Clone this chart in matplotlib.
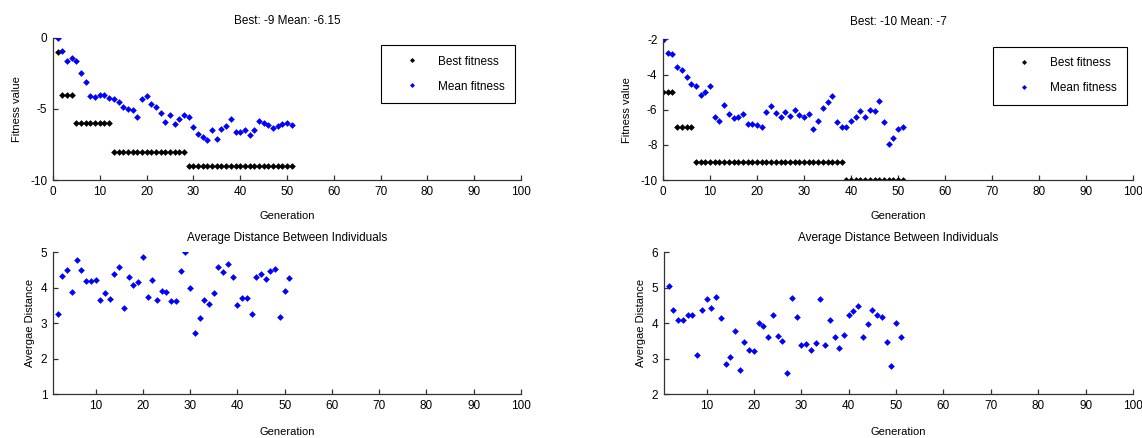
import numpy as np
import matplotlib.pyplot as plt

plt.rcParams['font.family'] = ['Liberation Sans', 'DejaVu Sans']
plt.rcParams['font.size'] = 8
plt.rcParams['axes.unicode_minus'] = False

# run 1 (left column)
gen1 = np.arange(1, 52)
best1 = [-1] + [-4] * 3 + [-6] * 8 + [-8] * 16 + [-9] * 23
mean1 = [0.0, -0.91, -1.62, -1.41, -1.66, -2.51, -3.09, -4.10, -4.19, -4.03,
         -4.03, -4.26, -4.29, -4.50, -4.85, -5.01, -5.08, -5.60, -4.29, -4.12,
         -4.68, -4.85, -5.32, -5.93, -5.43, -6.09, -5.71, -5.46, -5.55, -6.25,
         -6.79, -7.00, -7.19, -6.49, -7.14, -6.42, -6.18, -5.74, -6.65, -6.65,
         -6.51, -6.81, -6.49, -5.83, -5.97, -6.16, -6.35, -6.23, -6.07, -5.97,
         -6.15]
dgen1 = np.arange(2, 52)
dist1 = [3.27, 4.34, 4.50, 3.88, 4.78, 4.50, 4.18, 4.18, 4.21, 3.65,
         3.85, 3.69, 4.38, 4.58, 3.44, 4.31, 4.08, 4.15, 4.88, 3.74,
         4.21, 3.65, 3.91, 3.88, 3.62, 3.62, 4.48, 5.01, 3.98, 2.72,
         3.15, 3.65, 3.55, 3.85, 4.58, 4.44, 4.68, 4.31, 3.52, 3.72,
         3.72, 3.27, 4.31, 4.38, 4.25, 4.48, 4.54, 3.18, 3.91, 4.28]

# run 2 (right column)
gen2 = np.arange(0, 52)
best2 = [-5] * 3 + [-7] * 4 + [-9] * 32 + [-10] * 13
mean2 = [-2.06, -2.76, -2.83, -3.59, -3.74, -4.14, -4.54, -4.67, -5.15, -5.00,
         -4.65, -6.42, -6.63, -5.75, -6.23, -6.49, -6.44, -6.27, -6.83, -6.83,
         -6.89, -6.99, -6.15, -5.81, -6.21, -6.42, -6.15, -6.36, -6.02, -6.28,
         -6.44, -6.23, -7.10, -6.63, -5.89, -5.54, -5.20, -6.70, -6.97, -6.97,
         -6.63, -6.42, -6.08, -6.42, -6.02, -6.08, -5.49, -6.70, -7.97, -7.61,
         -7.10, -7.00]
dgen2 = np.arange(2, 52)
dist2 = [5.04, 4.38, 4.08, 4.08, 4.22, 4.22, 3.12, 4.38, 4.68, 4.44,
         4.74, 4.15, 2.85, 3.05, 3.77, 2.68, 3.47, 3.25, 3.21, 4.01,
         3.91, 3.62, 4.22, 3.64, 3.51, 2.61, 4.70, 4.18, 3.38, 3.41,
         3.24, 3.45, 4.68, 3.38, 4.08, 3.62, 3.31, 3.68, 4.24, 4.35,
         4.48, 3.62, 3.98, 4.38, 4.22, 4.18, 3.47, 2.81, 4.01, 3.62]

ms = 3.4
axcol = '#333333'


def style(ax):
    ax.spines['top'].set_visible(False)
    ax.spines['right'].set_visible(False)
    for s in ('left', 'bottom'):
        ax.spines[s].set_color(axcol)
        ax.spines[s].set_linewidth(0.9)
    ax.tick_params(direction='in', length=3.6, width=0.9, color=axcol,
                   labelsize=8.5, pad=4)


fig = plt.figure(figsize=(11.42, 4.38), dpi=100)

ax1 = fig.add_axes([0.0464, 0.589, 0.4098, 0.3249])
ax2 = fig.add_axes([0.5806, 0.589, 0.4116, 0.3212])
ax3 = fig.add_axes([0.0464, 0.0998, 0.4098, 0.3242])
ax4 = fig.add_axes([0.5814, 0.0998, 0.4107, 0.3242])

for ax, g, b, m, ttl, yt in [(ax1, gen1, best1, mean1, 'Best: -9 Mean: -6.15', [-10, -5, 0]),
                             (ax2, gen2, best2, mean2, 'Best: -10 Mean: -7', [-10, -8, -6, -4, -2])]:
    ax.plot(g, b, 'D', color='k', ms=ms, mew=0, label='Best fitness')
    ax.plot(g, m, 'D', color='b', ms=ms, mew=0, label='Mean fitness')
    ax.set_xlim(0, 100)
    ax.set_ylim(yt[0], yt[-1])
    ax.set_xticks(np.arange(0, 101, 10))
    ax.set_yticks(yt)
    ax.set_xlabel('Generation', labelpad=10)
    ax.set_ylabel('Fitness value', labelpad=6)
    ax.set_title(ttl, fontsize=8.5, pad=10)
    style(ax)
    leg = ax.legend(loc='upper right', bbox_to_anchor=(0.987, 0.949),
                    fancybox=False, framealpha=1, edgecolor='k',
                    borderpad=0.9, labelspacing=1.1, handlelength=3.5,
                    handletextpad=0.4, markerscale=0.75, borderaxespad=0,
                    fontsize=8.5)
    leg.get_frame().set_linewidth(0.8)

for ax, g, d, yl in [(ax3, dgen1, dist1, (1, 5)), (ax4, dgen2, dist2, (2, 6))]:
    ax.plot(g, d, 'D', color='b', ms=ms, mew=0)
    ax.set_xlim(1, 100)
    ax.set_ylim(*yl)
    ax.set_xticks(np.arange(10, 101, 10))
    ax.set_yticks(np.arange(yl[0], yl[1] + 1))
    ax.set_xlabel('Generation', labelpad=11)
    ax.set_ylabel('Avergae Distance', labelpad=4)
    ax.set_title('Average Distance Between Individuals', fontsize=8.5, pad=8)
    style(ax)

fig.savefig('out.png', dpi=100)
